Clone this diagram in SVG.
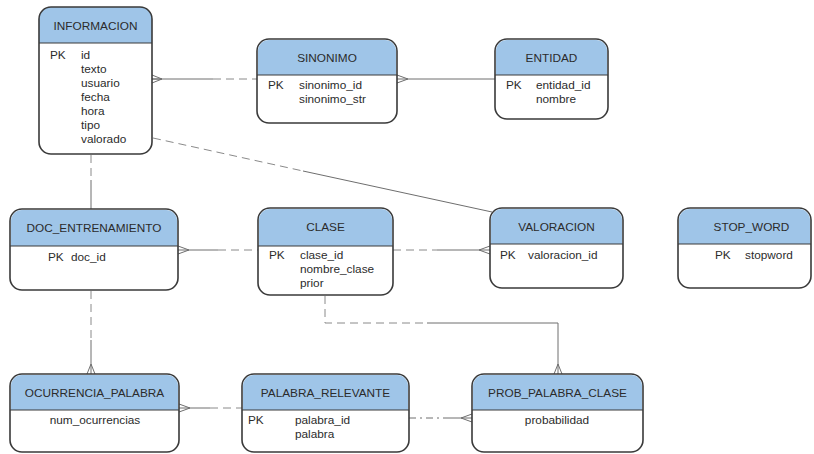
<svg xmlns="http://www.w3.org/2000/svg" width="814" height="454" viewBox="0 0 814 454">
  <style>
    .box { fill: #ffffff; stroke: #3a3a3a; stroke-width: 1.6; }
    .head { fill: #9fc5e8; }
    .sep { stroke: #3a3a3a; stroke-width: 1.2; }
    text { font-family: "Liberation Sans", Arial, sans-serif; font-size: 11.8px; fill: #2b2b2b; }
    .title { text-anchor: middle; }
    .mid { text-anchor: middle; }
    .solid { fill: none; stroke: #6e6e6e; stroke-width: 1; }
    .dash { fill: none; stroke: #8a8a8a; stroke-width: 1; stroke-dasharray: 8 5; }
    .dashdot { fill: none; stroke: #6e6e6e; stroke-width: 1; stroke-dasharray: 7 4 2 4; }
    .crow { fill: none; stroke: #6e6e6e; stroke-width: 1; }
  </style>

  <!-- relationships -->
  <g id="connectors">
    <!-- INFORMACION - SINONIMO -->
    <path class="solid" d="M152 79 H213"/>
    <path class="dash" d="M213 79 H257"/>
    <path class="crow" d="M152 75 L162 79 L152 83 M152 79 H162"/>
    <!-- SINONIMO - ENTIDAD -->
    <path class="solid" d="M397 79 H495"/>
    <path class="crow" d="M397 75 L408 79 L397 83"/>
    <!-- INFORMACION - DOC_ENTRENAMIENTO -->
    <path class="dash" d="M91 155 V180"/>
    <path class="solid" d="M91 180 V209"/>
    <!-- INFORMACION - VALORACION -->
    <path class="dash" d="M153 138 L303 171"/>
    <path class="solid" d="M303 171 L492 212"/>
    <!-- DOC_ENTRENAMIENTO - CLASE -->
    <path class="solid" d="M178 250 H218"/>
    <path class="dash" d="M218 250 H258"/>
    <path class="crow" d="M178 246 L189 250 L178 254"/>
    <!-- CLASE - VALORACION -->
    <path class="dash" d="M393 250 H437"/>
    <path class="solid" d="M437 250 H490"/>
    <path class="crow" d="M490 246 L479 250 L490 254"/>
    <!-- DOC_ENTRENAMIENTO - OCURRENCIA_PALABRA -->
    <path class="dash" d="M91 291 V340"/>
    <path class="solid" d="M91 340 V374"/>
    <path class="crow" d="M87 374 L91 364 L95 374"/>
    <!-- CLASE - PROB_PALABRA_CLASE -->
    <path class="dash" d="M325 296 V323 H427"/>
    <path class="solid" d="M427 323 H558 V374"/>
    <path class="crow" d="M554 374 L558 364 L562 374"/>
    <!-- OCURRENCIA_PALABRA - PALABRA_RELEVANTE -->
    <path class="solid" d="M179 408 H210"/>
    <path class="dash" d="M210 408 H242"/>
    <path class="crow" d="M179 404 L190 408 L179 412"/>
    <!-- PALABRA_RELEVANTE - PROB_PALABRA_CLASE -->
    <path class="dashdot" d="M409 418 H443"/>
    <path class="solid" d="M443 418 H472"/>
    <path class="crow" d="M472 414 L461 418 L472 422"/>
  </g>

  <g id="informacion">
    <path class="head" d="M39 43 V19 a12 12 0 0 1 12 -12 H140 a12 12 0 0 1 12 12 V43 Z"/>
    <rect class="box" x="39" y="7" width="113" height="147" rx="12" style="fill:none"/>
    <line class="sep" x1="39" y1="43" x2="152" y2="43"/>
    <text class="title" x="95.5" y="30">INFORMACION</text>
    <text x="50" y="59">PK</text>
    <text x="81" y="59">id</text>
    <text x="81" y="73">texto</text>
    <text x="81" y="87">usuario</text>
    <text x="81" y="101">fecha</text>
    <text x="81" y="115">hora</text>
    <text x="81" y="129">tipo</text>
    <text x="81" y="143">valorado</text>
  </g>

  <g id="sinonimo">
    <rect class="box" x="257" y="39" width="140" height="84" rx="12"/>
    <path class="head" d="M258 75 V51 a11 11 0 0 1 11 -11 H385 a11 11 0 0 1 11 11 V75 Z"/>
    <line class="sep" x1="257" y1="75" x2="397" y2="75"/>
    <text class="title" x="327" y="62">SINONIMO</text>
    <text x="268" y="89">PK</text>
    <text x="299" y="89">sinonimo_id</text>
    <text x="299" y="103">sinonimo_str</text>
  </g>

  <g id="entidad">
    <rect class="box" x="495" y="39" width="113" height="80" rx="12"/>
    <path class="head" d="M496 75 V51 a11 11 0 0 1 11 -11 H596 a11 11 0 0 1 11 11 V75 Z"/>
    <line class="sep" x1="495" y1="75" x2="608" y2="75"/>
    <text class="title" x="551.5" y="62">ENTIDAD</text>
    <text x="506" y="89">PK</text>
    <text x="536" y="89">entidad_id</text>
    <text x="536" y="103">nombre</text>
  </g>

  <g id="doc_entrenamiento">
    <rect class="box" x="10" y="209" width="168" height="81" rx="12"/>
    <path class="head" d="M11 246 V221 a11 11 0 0 1 11 -11 H166 a11 11 0 0 1 11 11 V246 Z"/>
    <line class="sep" x1="10" y1="246" x2="178" y2="246"/>
    <text class="title" x="94" y="232">DOC_ENTRENAMIENTO</text>
    <text x="48" y="261">PK</text>
    <text x="71" y="261">doc_id</text>
  </g>

  <g id="clase">
    <rect class="box" x="258" y="208" width="135" height="87" rx="12"/>
    <path class="head" d="M259 246 V220 a11 11 0 0 1 11 -11 H381 a11 11 0 0 1 11 11 V246 Z"/>
    <line class="sep" x1="258" y1="246" x2="393" y2="246"/>
    <text class="title" x="325.5" y="231">CLASE</text>
    <text x="269" y="259">PK</text>
    <text x="300" y="259">clase_id</text>
    <text x="300" y="273">nombre_clase</text>
    <text x="300" y="287">prior</text>
  </g>

  <g id="valoracion">
    <rect class="box" x="490" y="208" width="133" height="80" rx="12"/>
    <path class="head" d="M491 244 V220 a11 11 0 0 1 11 -11 H611 a11 11 0 0 1 11 11 V244 Z"/>
    <line class="sep" x1="490" y1="244" x2="623" y2="244"/>
    <text class="title" x="556.5" y="231">VALORACION</text>
    <text x="500" y="259">PK</text>
    <text x="528" y="259">valoracion_id</text>
  </g>

  <g id="stop_word">
    <rect class="box" x="678" y="208" width="133" height="80" rx="12"/>
    <path class="head" d="M679 244 V220 a11 11 0 0 1 11 -11 H799 a11 11 0 0 1 11 11 V244 Z"/>
    <line class="sep" x1="678" y1="244" x2="811" y2="244"/>
    <text class="title" x="751.5" y="231">STOP_WORD</text>
    <text x="715" y="259">PK</text>
    <text x="745" y="259">stopword</text>
  </g>

  <g id="ocurrencia_palabra">
    <rect class="box" x="10" y="374" width="169" height="78" rx="12"/>
    <path class="head" d="M11 410 V386 a11 11 0 0 1 11 -11 H167 a11 11 0 0 1 11 11 V410 Z"/>
    <line class="sep" x1="10" y1="410" x2="179" y2="410"/>
    <text class="title" x="94.5" y="397">OCURRENCIA_PALABRA</text>
    <text class="mid" x="95" y="424">num_ocurrencias</text>
  </g>

  <g id="palabra_relevante">
    <rect class="box" x="242" y="374" width="167" height="78" rx="12"/>
    <path class="head" d="M243 410 V386 a11 11 0 0 1 11 -11 H397 a11 11 0 0 1 11 11 V410 Z"/>
    <line class="sep" x1="242" y1="410" x2="409" y2="410"/>
    <text class="title" x="325.5" y="397">PALABRA_RELEVANTE</text>
    <text x="248" y="424">PK</text>
    <text x="295" y="424">palabra_id</text>
    <text x="295" y="438">palabra</text>
  </g>

  <g id="prob_palabra_clase">
    <rect class="box" x="472" y="374" width="171" height="78" rx="12"/>
    <path class="head" d="M473 410 V386 a11 11 0 0 1 11 -11 H631 a11 11 0 0 1 11 11 V410 Z"/>
    <line class="sep" x1="472" y1="410" x2="643" y2="410"/>
    <text class="title" x="557.5" y="397">PROB_PALABRA_CLASE</text>
    <text class="mid" x="557" y="424">probabilidad</text>
  </g>
</svg>
